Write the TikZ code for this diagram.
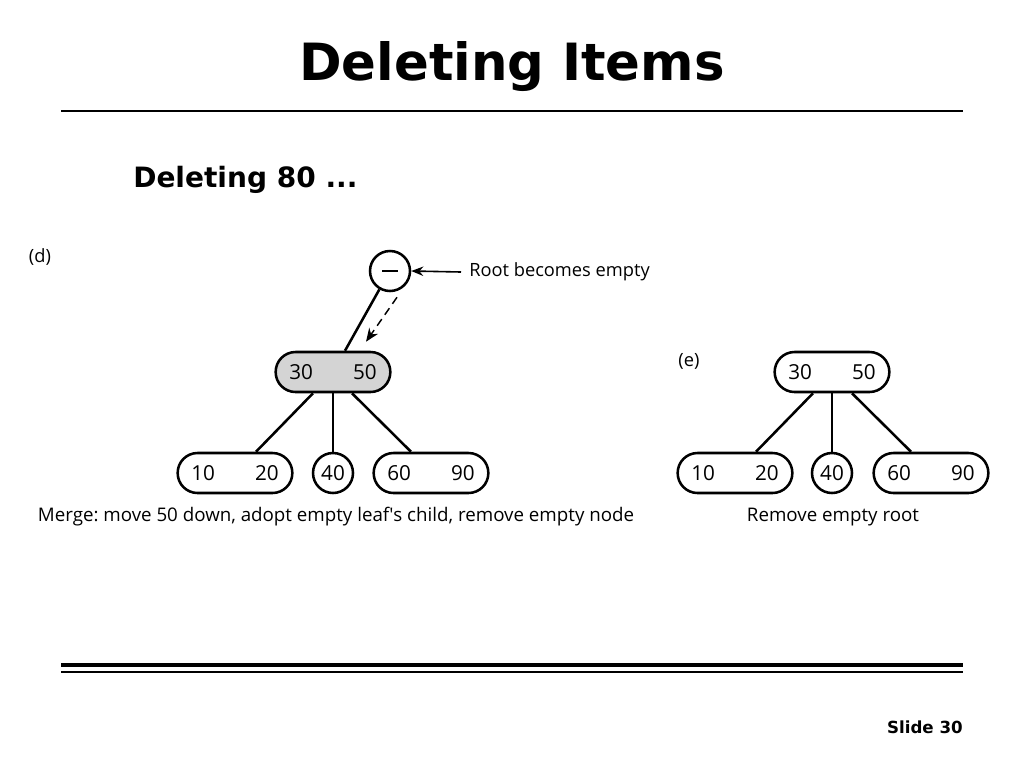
\documentclass[tikz,border=0pt]{standalone}
\usepackage{fontspec}
\setmainfont{Open Sans}
\newfontfamily\titlefont{DejaVu Sans}
\usetikzlibrary{arrows.meta,calc}
\begin{document}
\frenchspacing
\begin{tikzpicture}[x=0.75pt,y=-0.75pt,
  keybox/.style={draw,line width=1.9pt,rounded corners=14.9pt,minimum width=86pt,minimum height=30pt,inner sep=0pt,font=\fontsize{15.5}{17}\selectfont},
  keycirc/.style={draw,circle,line width=1.9pt,minimum size=30pt,inner sep=0pt,font=\fontsize{15.5}{17}\selectfont},
  edge/.style={line width=1.9pt},
  lbl/.style={font=\fontsize{13.7}{16}\selectfont,inner sep=0pt}]
\useasboundingbox (0,0) rectangle (1024,768);
% header
\node[font=\titlefont\bfseries\fontsize{38.5}{44}\selectfont,inner sep=0pt] (title) at (512,67) {Deleting Items};
\draw[line width=0.8pt] (61,111) coordinate (tl1) -- (963,111) coordinate (tl2);
\node[font=\titlefont\bfseries\fontsize{21}{24}\selectfont,anchor=west,inner sep=0pt] (sub) at (133,180) {Deleting 80 ...};
% (d)
\node[lbl] (dlab) at (40,257) {(d)};
\node[keycirc] (droot) at (390,271) {\rule{12pt}{2.2pt}};
\node[lbl,anchor=west] (rootnote) at (469,272) {Root becomes empty};
\draw[line width=1.2pt,-{Stealth[length=9pt,width=7pt]}] (rootnote.west)++(-8,0) -- (droot.east);
\node[keybox,fill=black!17] (dmid) at (333,372) {30\hspace{30pt}50};
\draw[edge] (droot.240) -- ($(dmid.north)+(12,0)$);
\draw[line width=1.1pt,dash pattern=on 6pt off 4pt,-{Stealth[length=10pt,width=8pt]}] ($(droot.south)+(7,5)$) -- ($(dmid.north)+(33,-9)$);
\node[keybox] (d10) at (235,473) {10\hspace{30pt}20};
\node[keycirc] (d40) at (333,473) {40};
\node[keybox] (d60) at (431,473) {60\hspace{30pt}90};
\draw[edge] ($(dmid.south)+(-20,0)$) -- ($(d10.north)+(21,0)$);
\draw[edge] (dmid.south) -- (d40.north);
\draw[edge] ($(dmid.south)+(19,0)$) -- ($(d60.north)+(-20,0)$);
\node[lbl,font=\fontsize{14.05}{16}\selectfont] (dcap) at (336,517) {Merge: move 50 down, adopt empty leaf{\addfontfeatures{Ligatures=TeXOff}'}s child, remove empty node};
% (e)
\node[lbl] (elab) at (689,361) {(e)};
\node[keybox] (eroot) at (832,372) {30\hspace{30pt}50};
\node[keybox] (e10) at (735,473) {10\hspace{30pt}20};
\node[keycirc] (e40) at (832,473) {40};
\node[keybox] (e60) at (931,473) {60\hspace{30pt}90};
\draw[edge] ($(eroot.south)+(-19,0)$) -- ($(e10.north)+(21,0)$);
\draw[edge] (eroot.south) -- (e40.north);
\draw[edge] ($(eroot.south)+(20,0)$) -- ($(e60.north)+(-20,0)$);
\node[lbl,font=\fontsize{14.05}{16}\selectfont] (ecap) at (833,517) {Remove empty root};
% footer
\draw[line width=3pt] (61,665) coordinate (bl1) -- (963,665) coordinate (bl2);
\draw[line width=0.8pt] (61,672) coordinate (bl3) -- (963,672) coordinate (bl4);
\node[font=\titlefont\bfseries\fontsize{12.5}{15}\selectfont,anchor=east,inner sep=0pt] (slide) at (963,727) {Slide 30};
\end{tikzpicture}
\end{document}
